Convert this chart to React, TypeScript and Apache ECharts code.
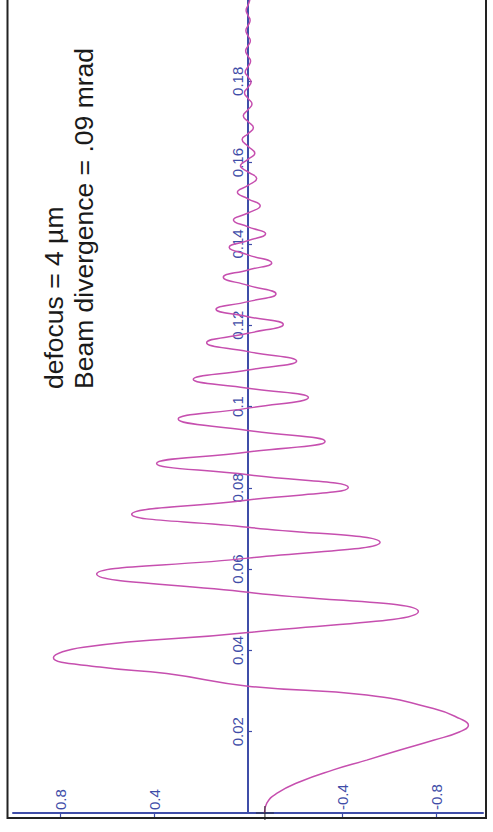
import React, { useEffect, useRef } from "react";
import * as echarts from "echarts";

// Position along the scan (vertical axis) and the signal at that position (horizontal axis)
const zPos = [
  0, 0.0024, 0.0048, 0.0077, 0.0106, 0.013, 0.0155, 0.0179, 0.02, 0.0216,
  0.0232, 0.0257, 0.029, 0.0312, 0.0343, 0.0359, 0.0382, 0.0408, 0.0444, 0.0496,
  0.0543, 0.0588, 0.0627, 0.0666, 0.0703, 0.0735, 0.077, 0.0801, 0.0832, 0.086,
  0.0888, 0.0914, 0.0941, 0.0969, 0.0996, 0.1022, 0.1045, 0.1067, 0.109, 0.1112,
  0.1135, 0.1157, 0.118, 0.1202, 0.1221, 0.1239, 0.1258, 0.1277, 0.1298, 0.1318,
  0.1336, 0.1353, 0.1373, 0.1392, 0.1408, 0.1425, 0.1442, 0.1459, 0.1476, 0.1494,
  0.1511, 0.1527, 0.1544, 0.1561, 0.1577, 0.1592, 0.1608, 0.1623, 0.164, 0.1657,
  0.1671, 0.1686, 0.1701, 0.1715, 0.173, 0.1744, 0.1758, 0.1772, 0.1785, 0.1798,
  0.1811, 0.1823, 0.1836, 0.185, 0.1862, 0.1875, 0.1887, 0.19, 0.1912, 0.1925,
  0.1937, 0.195, 0.1962, 0.1975, 0.1987, 0.2,
];
const signal = [
  -0.07, -0.08, -0.122, -0.221, -0.363, -0.505, -0.647, -0.789, -0.902, -0.938,
  -0.902, -0.789, -0.505, 0, 0.346, 0.63, 0.828, 0.7, 0, -0.725,
  0, 0.644, 0, -0.562, 0, 0.495, 0, -0.427, 0, 0.389,
  0, -0.328, 0, 0.297, 0, -0.257, 0, 0.233, 0, -0.207,
  0, 0.176, 0, -0.15, 0, 0.136, 0, -0.119, 0, 0.105,
  0, -0.101, 0, 0.08, 0, -0.075, 0, 0.062, 0, -0.052,
  0, 0.045, 0, -0.037, 0, 0.032, 0, -0.029, 0, 0.025,
  0, -0.023, 0, 0.02, 0, -0.017, 0, 0.015, 0, -0.013,
  0, 0.012, 0, -0.011, 0, 0.01, 0, -0.01, 0, 0.009,
  0, -0.009, 0, 0.008, 0, -0.008,
];

// Tick values
const signalTicks = [-0.8, -0.4, 0.4, 0.8];
const cursor = [[-0.072, 0]];

const annotationLines = ["defocus = 4 µm", "Beam divergence = .09 mrad"];

const AXIS_BLUE = "#3F4DA8";
const CURVE = "#C64FAF";
const FONT = '"Liberation Sans", Arial, Helvetica, sans-serif';

const GRID_LEFT = 13;
const GRID_RIGHT = 10;
const WIDTH = 493;

export default function App() {
  const ref = useRef<HTMLDivElement>(null);

  useEffect(() => {
    if (!ref.current) return;
    const chart = echarts.init(ref.current, null, { renderer: "svg" });
    const curveData = zPos.map((z, i) => [signal[i], z]);
    // the vertical axis sits at signal = 0, the middle of the symmetric range
    const plotWidth = WIDTH - GRID_LEFT - GRID_RIGHT;

    chart.setOption({
      animation: false,
      backgroundColor: "#ffffff",
      grid: { left: GRID_LEFT, right: GRID_RIGHT, top: -2, bottom: 19, containLabel: false },
      xAxis: {
        type: "value",
        min: -1,
        max: 1,
        inverse: true,
        axisLine: { onZero: true, lineStyle: { color: AXIS_BLUE, width: 2 } },
        axisTick: {
          show: true,
          inside: false,
          length: 4,
          customValues: signalTicks,
          lineStyle: { color: AXIS_BLUE, width: 1.2 },
        },
        axisLabel: {
          show: true,
          inside: true,
          rotate: 90,
          margin: 3,
          customValues: signalTicks,
          color: AXIS_BLUE,
          fontSize: 15,
          fontFamily: FONT,
        },
        splitLine: { show: false },
      },
      yAxis: {
        type: "value",
        min: 0,
        max: 0.2,
        interval: 0.02,
        position: "left",
        offset: -plotWidth / 2,
        axisLine: { onZero: false, lineStyle: { color: AXIS_BLUE, width: 2 } },
        axisTick: {
          show: true,
          inside: true,
          length: 4,
          lineStyle: { color: AXIS_BLUE, width: 1.2 },
        },
        axisLabel: {
          show: true,
          rotate: 90,
          margin: 3,
          showMinLabel: false,
          showMaxLabel: false,
          color: AXIS_BLUE,
          fontSize: 15,
          fontFamily: FONT,
        },
        splitLine: { show: false },
      },
      graphic: [
        {
          type: "rect",
          z: -1,
          shape: { x: 7.5, y: -10, width: 478.5, height: 828 },
          style: { fill: "none", stroke: "#222222", lineWidth: 2 },
          silent: true,
        },
        ...annotationLines.map((t, i) => ({
          type: "text",
          x: 54 + i * 30,
          y: 389,
          rotation: Math.PI / 2,
          silent: true,
          style: {
            text: t,
            fontSize: 26.5,
            fontFamily: FONT,
            fill: "#1a1a1a",
            align: "left",
            verticalAlign: "middle",
          },
        })),
      ],
      series: [
        {
          type: "line",
          data: curveData,
          smooth: 0.5,
          showSymbol: false,
          lineStyle: { color: CURVE, width: 1.5 },
          z: 3,
        },
        {
          type: "scatter",
          data: cursor,
          clip: false,
          symbol: "path://M0,6.4H18V7.6H0Z M8.4,0H9.6V14H8.4Z",
          symbolSize: [18, 14],
          itemStyle: { color: "#222222" },
          z: 4,
        },
      ],
    });
    return () => chart.dispose();
  }, []);

  return (
    <div
      ref={ref}
      style={{ position: "fixed", left: 0, top: 0, width: 493, height: 832 }}
    />
  );
}
